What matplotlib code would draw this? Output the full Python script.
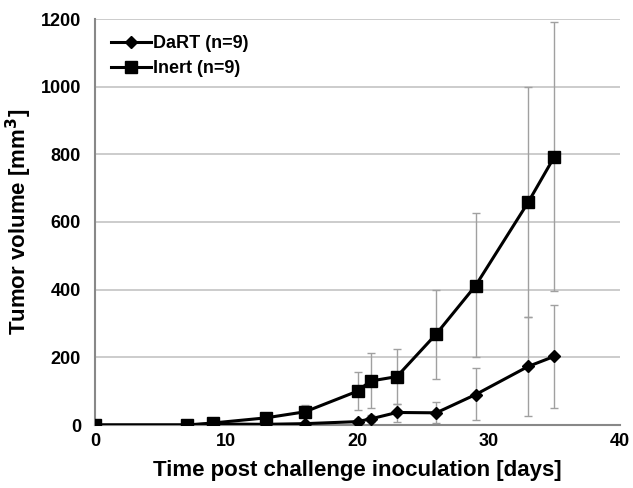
import matplotlib.pyplot as plt
import numpy as np

plt.rcParams['font.family'] = ['Liberation Sans', 'DejaVu Sans']
plt.rcParams['font.weight'] = 'bold'

days = [0, 7, 9, 13, 16, 20, 21, 23, 26, 29, 33, 35]

# DaRT group (mean, upper, lower)
dart = [0, 0, 3, 2, 4, 10, 18, 37, 36, 90, 173, 203]
dart_hi = [0, 0, 5, 5, 8, 18, 30, 63, 69, 167, 319, 355]
dart_lo = [0, 0, 1, 0, 1, 4, 8, 9, 6, 15, 27, 51]

# Inert group
inert = [0, 0, 6, 21, 39, 100, 130, 143, 269, 412, 658, 793]
inert_hi = [0, 0, 10, 30, 60, 158, 212, 224, 400, 627, 1000, 1190]
inert_lo = [0, 0, 2, 12, 25, 45, 51, 63, 137, 200, 319, 397]

fig = plt.figure(figsize=(6.33, 4.88), dpi=100)
ax = fig.add_axes([95/633, 1 - 425/488, 525/633, 406/488])

d = np.array(dart)
i = np.array(inert)
ax.errorbar(days, inert, yerr=[i - np.array(inert_lo), np.array(inert_hi) - i],
            fmt='none', ecolor='#a0a0a0', elinewidth=1, capsize=3, capthick=1, zorder=2)
ax.errorbar(days, dart, yerr=[d - np.array(dart_lo), np.array(dart_hi) - d],
            fmt='none', ecolor='#a0a0a0', elinewidth=1, capsize=3, capthick=1, zorder=2)

ax.plot(days, dart, color='black', lw=2.2, marker='D', ms=6, label='DaRT (n=9)', zorder=3)
ax.plot(days, inert, color='black', lw=2.2, marker='s', ms=8.5, label='Inert (n=9)', zorder=3)

ax.set_xlim(0, 40)
ax.set_ylim(0, 1200)
ax.set_xticks([0, 10, 20, 30, 40])
ax.set_yticks(range(0, 1201, 200))
ax.grid(axis='y', color='#c4c4c4', lw=1.2)
ax.set_axisbelow(True)
for s in ['top', 'right']:
    ax.spines[s].set_visible(False)
for s in ['left', 'bottom']:
    ax.spines[s].set_color('#888888')
    ax.spines[s].set_linewidth(1.5)
ax.tick_params(length=0, labelsize=13)
ax.tick_params(axis='x', pad=6)
ax.tick_params(axis='y', pad=10)
for lab in ax.get_xticklabels() + ax.get_yticklabels():
    lab.set_fontweight('bold')

ax.set_xlabel('Time post challenge inoculation [days]', fontsize=16, fontweight='bold', labelpad=7)
ax.set_ylabel('Tumor volume [mm$^\\mathbf{3}$]', fontsize=16, fontweight='bold', labelpad=5)

ax.legend(loc='upper left', frameon=False, handlelength=2.2,
          handletextpad=0.1, borderaxespad=0.5, labelspacing=0.45,
          prop={'weight': 'bold', 'size': 13})

fig.savefig('out.png', dpi=100)
